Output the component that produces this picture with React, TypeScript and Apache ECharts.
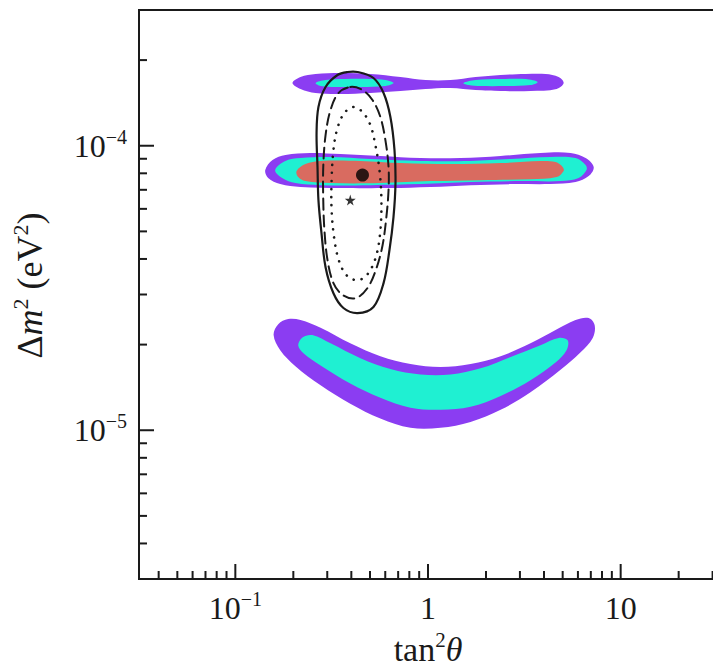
import React, { useEffect, useRef } from 'react';
import * as echarts from 'echarts';

// Axis ranges (tan^2 theta, delta m^2 in eV^2)
const X_MIN = 0.0316228;
const X_MAX = 31.6228;
const Y_MIN = 3.0e-6;
const Y_MAX = 3.0e-4;

const xMajorTicks = [0.1, 1, 10];
const xMinorTicks = [0.04, 0.05, 0.06, 0.07, 0.08, 0.09, 0.2, 0.3, 0.4, 0.5, 0.6, 0.7, 0.8, 0.9, 2, 3, 4, 5, 6, 7, 8, 9, 20, 30];
const yMajorTicks = [1e-5, 1e-4];
const yMinorTicks = [4e-6, 5e-6, 6e-6, 7e-6, 8e-6, 9e-6, 2e-5, 3e-5, 4e-5, 5e-5, 6e-5, 7e-5, 8e-5, 9e-5, 2e-4];

// Upper band (outer, 99% region)
const upperOuter = [
  [0.198, 16.61e-5], [0.218, 17.44e-5], [0.261, 17.87e-5], [0.351, 18.02e-5], [0.502, 17.87e-5],
  [0.719, 17.44e-5], [0.971, 17.02e-5], [1.309, 17.02e-5], [1.766, 17.44e-5], [2.382, 17.73e-5],
  [3.214, 17.87e-5], [4.074, 17.87e-5], [4.764, 17.44e-5], [5.058, 16.61e-5], [4.651, 15.83e-5],
  [3.404, 15.57e-5], [2.382, 15.57e-5], [1.766, 15.70e-5], [1.309, 15.96e-5], [0.971, 15.83e-5],
  [0.719, 15.57e-5], [0.502, 15.32e-5], [0.351, 15.20e-5], [0.261, 15.32e-5], [0.218, 15.83e-5],
];
const upperInnerLeft = [
  [0.261, 16.61e-5], [0.294, 17.02e-5], [0.372, 17.16e-5], [0.502, 17.16e-5], [0.601, 17.02e-5],
  [0.662, 16.61e-5], [0.601, 16.22e-5], [0.446, 16.09e-5], [0.330, 16.09e-5], [0.277, 16.22e-5],
];
const upperInnerRight = [
  [1.528, 16.61e-5], [1.766, 17.02e-5], [2.382, 17.16e-5], [3.214, 17.16e-5], [3.707, 16.75e-5],
  [3.404, 16.35e-5], [2.529, 16.22e-5], [1.875, 16.22e-5], [1.622, 16.35e-5],
];

// Middle band
const midOuter = [
  [0.143, 8.21e-5], [0.156, 8.91e-5], [0.182, 9.28e-5], [0.245, 9.43e-5], [0.351, 9.35e-5],
  [0.566, 9.20e-5], [0.914, 9.05e-5], [1.476, 9.05e-5], [2.382, 9.20e-5], [3.837, 9.43e-5],
  [5.500, 9.43e-5], [6.577, 9.05e-5], [7.244, 8.42e-5], [6.823, 7.82e-5], [5.834, 7.45e-5],
  [4.325, 7.33e-5], [2.685, 7.33e-5], [1.663, 7.27e-5], [1.030, 7.16e-5], [0.638, 7.10e-5],
  [0.351, 7.10e-5], [0.218, 7.16e-5], [0.171, 7.33e-5], [0.148, 7.70e-5],
];
const midMiddle = [
  [0.161, 8.21e-5], [0.182, 8.84e-5], [0.218, 9.05e-5], [0.312, 9.13e-5], [0.502, 8.98e-5],
  [0.914, 8.84e-5], [1.663, 8.84e-5], [2.685, 8.98e-5], [4.325, 9.13e-5], [5.834, 9.05e-5],
  [6.577, 8.55e-5], [6.650, 8.21e-5], [6.053, 7.70e-5], [4.875, 7.51e-5], [3.027, 7.51e-5],
  [1.663, 7.45e-5], [0.914, 7.33e-5], [0.502, 7.27e-5], [0.277, 7.27e-5], [0.205, 7.39e-5],
  [0.175, 7.70e-5],
];
const midInner = [
  [0.208, 8.15e-5], [0.231, 8.62e-5], [0.277, 8.84e-5], [0.446, 8.84e-5], [0.719, 8.69e-5],
  [1.309, 8.62e-5], [2.382, 8.69e-5], [3.837, 8.84e-5], [4.592, 8.76e-5], [5.000, 8.42e-5],
  [5.058, 8.15e-5], [4.651, 7.76e-5], [3.404, 7.63e-5], [1.875, 7.57e-5], [1.030, 7.51e-5],
  [0.566, 7.39e-5], [0.312, 7.39e-5], [0.231, 7.51e-5], [0.212, 7.76e-5],
];

// Lower (banana) band
const lowOuter = [
  [0.158, 2.16e-5], [0.167, 2.36e-5], [0.188, 2.46e-5], [0.218, 2.44e-5], [0.277, 2.29e-5],
  [0.395, 2.02e-5], [0.566, 1.82e-5], [0.811, 1.71e-5], [1.161, 1.67e-5], [1.663, 1.71e-5],
  [2.382, 1.82e-5], [3.404, 2.02e-5], [4.592, 2.25e-5], [5.834, 2.44e-5], [6.823, 2.48e-5],
  [7.330, 2.34e-5], [7.161, 2.11e-5], [6.194, 1.88e-5], [4.875, 1.63e-5], [3.404, 1.36e-5],
  [2.382, 1.18e-5], [1.663, 1.07e-5], [1.161, 1.02e-5], [0.811, 1.02e-5], [0.566, 1.10e-5],
  [0.395, 1.24e-5], [0.277, 1.44e-5], [0.205, 1.68e-5], [0.171, 1.91e-5],
];
const lowInner = [
  [0.212, 1.99e-5], [0.223, 2.12e-5], [0.251, 2.16e-5], [0.312, 2.02e-5], [0.446, 1.79e-5],
  [0.638, 1.64e-5], [0.914, 1.57e-5], [1.309, 1.57e-5], [1.875, 1.65e-5], [2.685, 1.81e-5],
  [3.837, 1.99e-5], [4.764, 2.11e-5], [5.309, 2.07e-5], [5.236, 1.91e-5], [4.592, 1.73e-5],
  [3.404, 1.50e-5], [2.382, 1.32e-5], [1.663, 1.21e-5], [1.161, 1.18e-5], [0.811, 1.20e-5],
  [0.566, 1.30e-5], [0.395, 1.46e-5], [0.277, 1.69e-5], [0.225, 1.87e-5],
];

// Black contours
const solidContour = [
  [0.431, 18.16e-5], [0.521, 17.30e-5], [0.588, 15.32e-5], [0.638, 12.62e-5], [0.670, 9.66e-5],
  [0.678, 7.39e-5], [0.662, 5.61e-5], [0.631, 4.30e-5], [0.588, 3.29e-5], [0.521, 2.71e-5],
  [0.431, 2.58e-5], [0.364, 2.69e-5], [0.323, 3.03e-5], [0.294, 3.74e-5], [0.280, 4.93e-5],
  [0.270, 6.44e-5], [0.267, 8.42e-5], [0.264, 11.08e-5], [0.270, 13.68e-5], [0.294, 16.09e-5],
  [0.339, 17.73e-5], [0.382, 18.16e-5],
];
const dashedContour = [
  [0.395, 16.09e-5], [0.457, 15.70e-5], [0.515, 14.48e-5], [0.566, 12.62e-5], [0.601, 10.47e-5],
  [0.624, 8.42e-5], [0.624, 6.99e-5], [0.608, 5.61e-5], [0.581, 4.47e-5], [0.540, 3.71e-5],
  [0.485, 3.16e-5], [0.420, 2.91e-5], [0.360, 2.99e-5], [0.323, 3.29e-5], [0.301, 3.96e-5],
  [0.290, 5.05e-5], [0.286, 6.44e-5], [0.286, 8.42e-5], [0.294, 10.90e-5], [0.312, 13.36e-5],
  [0.343, 15.32e-5],
];
const dottedContour = [
  [0.410, 13.68e-5], [0.457, 13.14e-5], [0.502, 11.83e-5], [0.533, 10.06e-5], [0.560, 8.21e-5],
  [0.573, 6.44e-5], [0.566, 5.05e-5], [0.540, 4.13e-5], [0.491, 3.57e-5], [0.436, 3.37e-5],
  [0.382, 3.48e-5], [0.347, 3.90e-5], [0.327, 4.66e-5], [0.316, 5.94e-5], [0.316, 7.57e-5],
  [0.323, 9.66e-5], [0.339, 11.54e-5], [0.368, 13.03e-5],
];

const bestFit = [[0.457, 7.89e-5]];
const starPoint = [[0.395, 6.44e-5]];

const PURPLE = '#8b3df2';
const CYAN = '#1ff0d2';
const RED = '#d96b60';
const INK = '#1a1a1a';
const FONT = '"Liberation Serif", "DejaVu Serif", serif';

function region(name: string, pts: number[][], fill: string, smooth = 0.35) {
  return {
    type: 'custom',
    name,
    coordinateSystem: 'cartesian2d',
    data: pts,
    silent: true,
    renderItem: (params: any, api: any) => {
      if (params.dataIndex !== 0) return null;
      return {
        type: 'polygon',
        shape: { points: pts.map((p) => api.coord(p)), smooth },
        style: { fill, stroke: null },
      };
    },
  };
}

function contour(name: string, pts: number[][], dash: number[] | null, width = 2) {
  return {
    type: 'custom',
    name,
    coordinateSystem: 'cartesian2d',
    data: pts,
    silent: true,
    renderItem: (params: any, api: any) => {
      if (params.dataIndex !== 0) return null;
      return {
        type: 'polygon',
        shape: { points: pts.map((p) => api.coord(p)), smooth: 0.35 },
        style: { fill: null, stroke: INK, lineWidth: width, lineDash: dash || undefined, lineCap: 'round' },
      };
    },
  };
}

function xTicks(name: string, vals: number[], len: number) {
  return {
    type: 'custom',
    name,
    coordinateSystem: 'cartesian2d',
    data: vals.map((v) => [v, Y_MIN]),
    silent: true,
    z: 10,
    renderItem: (params: any, api: any) => {
      const p = api.coord([api.value(0), Y_MIN]);
      return {
        type: 'line',
        shape: { x1: p[0], y1: p[1], x2: p[0], y2: p[1] - len },
        style: { stroke: INK, lineWidth: 2 },
      };
    },
  };
}

function yTicks(name: string, vals: number[], len: number) {
  return {
    type: 'custom',
    name,
    coordinateSystem: 'cartesian2d',
    data: vals.map((v) => [X_MIN, v]),
    silent: true,
    z: 10,
    renderItem: (params: any, api: any) => {
      const p = api.coord([X_MIN, api.value(1)]);
      return {
        type: 'line',
        shape: { x1: p[0], y1: p[1], x2: p[0] + len, y2: p[1] },
        style: { stroke: INK, lineWidth: 2 },
      };
    },
  };
}

function powLabel(v: number) {
  const l = Math.log10(v);
  const e = Math.round(l);
  if (Math.abs(l - e) > 1e-6) return '';
  if (e === 0) return '{b|1}';
  if (e === 1) return '{b|10}';
  return '{b|10}{s|\u2212' + -e + '}';
}

const labelRich = {
  b: { fontFamily: FONT, fontSize: 32, lineHeight: 38, color: INK },
  s: { fontFamily: FONT, fontSize: 20, lineHeight: 20, color: INK, verticalAlign: 'top' },
};

const xNameRich = {
  n: { fontFamily: FONT, fontSize: 34, lineHeight: 40, color: INK },
  i: { fontFamily: FONT, fontSize: 34, lineHeight: 40, color: INK, fontStyle: 'italic' },
  s: { fontFamily: FONT, fontSize: 21, lineHeight: 21, color: INK, verticalAlign: 'top' },
};

const yNameRich = {
  n: { fontFamily: FONT, fontSize: 36, lineHeight: 42, color: INK },
  i: { fontFamily: FONT, fontSize: 36, lineHeight: 42, color: INK, fontStyle: 'italic' },
  s: { fontFamily: FONT, fontSize: 22, lineHeight: 22, color: INK, verticalAlign: 'top' },
};

export default function App() {
  const ref = useRef<HTMLDivElement>(null);
  useEffect(() => {
    if (!ref.current) return;
    const chart = echarts.init(ref.current, null, { renderer: 'svg' });
    chart.setOption({
      animation: false,
      backgroundColor: '#ffffff',
      grid: {
        left: 139,
        top: 10,
        right: -4,
        bottom: 90,
        containLabel: false,
        outerBoundsMode: 'none',
        show: true,
        borderColor: INK,
        borderWidth: 2,
        backgroundColor: 'transparent',
      },
      xAxis: {
        type: 'log',
        logBase: 10,
        min: X_MIN,
        max: X_MAX,
        name: '{n|tan}{s|2}{i|\u03b8}',
        nameLocation: 'middle',
        nameGap: 50,
        nameTextStyle: { rich: xNameRich },
        axisLine: { show: true, lineStyle: { color: INK, width: 2 } },
        axisTick: { show: false },
        minorTick: { show: false },
        splitLine: { show: false },
        minorSplitLine: { show: false },
        axisLabel: {
          formatter: powLabel,
          margin: 10,
          rich: labelRich,
          showMinLabel: false,
          showMaxLabel: false,
          hideOverlap: false,
        },
      },
      yAxis: {
        type: 'log',
        logBase: 10,
        min: Y_MIN,
        max: Y_MAX,
        name: '{n|\u0394}{i|m}{s|2}{n| (eV}{s|2}{n|)}',
        nameLocation: 'middle',
        nameRotate: 90,
        nameGap: 88,
        nameTextStyle: { rich: yNameRich, padding: [0, 0, 0, 18] },
        axisLine: { show: true, lineStyle: { color: INK, width: 2 } },
        axisTick: { show: false },
        minorTick: { show: false },
        splitLine: { show: false },
        minorSplitLine: { show: false },
        axisLabel: {
          formatter: powLabel,
          margin: 12,
          rich: labelRich,
          showMinLabel: false,
          showMaxLabel: false,
          hideOverlap: false,
        },
      },
      series: [
        region('upper-outer', upperOuter, PURPLE),
        region('upper-inner-left', upperInnerLeft, CYAN),
        region('upper-inner-right', upperInnerRight, CYAN),
        region('mid-outer', midOuter, PURPLE),
        region('mid-middle', midMiddle, CYAN),
        region('mid-inner', midInner, RED),
        region('low-outer', lowOuter, PURPLE),
        region('low-inner', lowInner, CYAN),
        contour('solid', solidContour, null, 2.2),
        contour('dashed', dashedContour, [11, 6], 2),
        contour('dotted', dottedContour, [0.1, 8], 2.6),
        {
          type: 'scatter',
          name: 'best fit',
          data: bestFit,
          symbol: 'circle',
          symbolSize: 13,
          itemStyle: { color: '#000' },
          silent: true,
          z: 5,
        },
        {
          type: 'scatter',
          name: 'star',
          data: starPoint,
          symbol: 'path://M50,0 L61,35 L98,35 L68,57 L79,91 L50,70 L21,91 L32,57 L2,35 L39,35 Z',
          symbolSize: 11,
          itemStyle: { color: '#000' },
          silent: true,
          z: 5,
        },
        xTicks('x-major-ticks', xMajorTicks, 15),
        xTicks('x-minor-ticks', xMinorTicks, 8),
        yTicks('y-major-ticks', yMajorTicks, 15),
        yTicks('y-minor-ticks', yMinorTicks, 8),
      ],
    });
    return () => chart.dispose();
  }, []);
  return (
    <div
      ref={ref}
      style={{ position: 'absolute', left: 0, top: 0, width: 713, height: 669, overflow: 'hidden', background: '#fff' }}
    />
  );
}
